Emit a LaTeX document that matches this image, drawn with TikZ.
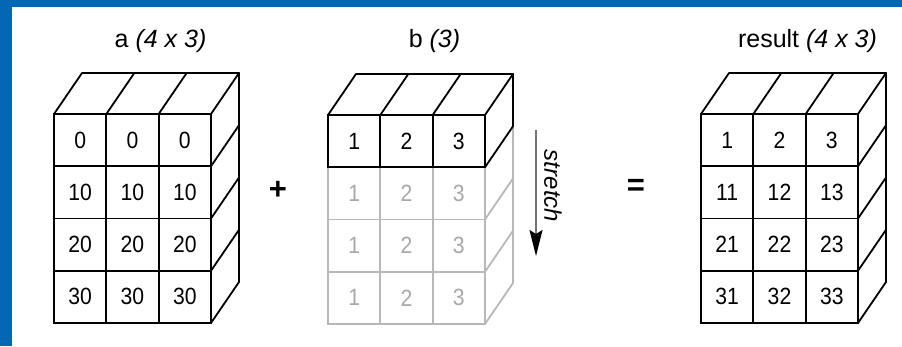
\documentclass[tikz,border=0pt]{standalone}
\usepackage{fontspec}
\setmainfont{Liberation Sans}
\newfontfamily\cellfont[FakeStretch=0.9]{Liberation Sans}
\usetikzlibrary{arrows.meta}
\definecolor{frameblue}{HTML}{0467B4}
\definecolor{faint}{HTML}{B8B8B8}
\definecolor{faintnum}{HTML}{A8A8A8}
\begin{document}
\begin{tikzpicture}[x=1pt,y=-1pt,
  edge/.style={line width=1.8pt, line join=round, line cap=round},
  cellbox/.style={draw, line width=1.8pt, minimum width=52.33pt, minimum height=52.25pt,
    inner sep=0pt, outer sep=0pt, anchor=north west, font=\cellfont\fontsize{23.5}{23.5}\selectfont},
  title/.style={font=\fontsize{25}{25}\selectfont, anchor=base},
  opsign/.style={font=\bfseries\fontsize{31}{31}\selectfont, inner sep=0pt}]
\useasboundingbox (0,0) rectangle (902,346);
\fill[white] (0,0) rectangle (902,346);
\fill[frameblue] (0,0) rectangle (12,346);
\fill[frameblue] (0,0) rectangle (902,7);

% ---------- block a ----------
\begin{scope}[shift={(54,114)}]
  \draw[edge] (0,0) -- (28,-41) -- (185,-41) -- (157,0);
  \foreach \c in {1,2} \draw[edge] (\c*52.33,0) -- ++(28,-41);
  \draw[edge] (185,-41) -- (185,168) -- (157,209);
  \foreach \r in {1,2,3} \draw[edge] (157,\r*52.25) -- ++(28,-41);
  \foreach \r in {0,...,3}
    \foreach \c in {0,1,2} {
      \pgfmathtruncatemacro{\v}{10*\r}
      \node[cellbox] (a-\r-\c) at (\c*52.33,\r*52.25) {\v};
    }
  \node[title] (a-title) at (106.5,-67) {a \textit{(4 x 3)}};
\end{scope}

% ---------- block b ----------
\begin{scope}[shift={(328,115)}]
  % stretched (faint) rows
  \draw[edge, faint] (185,11.25) -- (185,168) -- (157,209);
  \foreach \r in {2,3} \draw[edge, faint] (157,\r*52.25) -- ++(28,-41);
  \foreach \r in {1,2,3}
    \foreach \c in {0,1,2} {
      \pgfmathtruncatemacro{\v}{\c+1}
      \node[cellbox, draw=faint, text=faintnum] (b-\r-\c) at (\c*52.33,\r*52.25) {\v};
    }
  % original row
  \draw[edge] (0,0) -- (28,-41) -- (185,-41) -- (157,0);
  \foreach \c in {1,2} \draw[edge] (\c*52.33,0) -- ++(28,-41);
  \draw[edge] (185,-41) -- (185,11.25) -- (157,52.25);
  \foreach \c in {0,1,2} {
    \pgfmathtruncatemacro{\v}{\c+1}
    \node[cellbox] (b-0-\c) at (\c*52.33,0) {\v};
  }
  \node[title] (b-title) at (106.5,-68) {b \textit{(3)}};
\end{scope}

% stretch arrow
\coordinate (s-start) at (536,130);
\coordinate (s-end) at (536,256);
\draw[line width=1.6pt, black!55, -{Stealth[length=26pt, width=13pt, inset=4pt, color=black]}] (s-start) -- (s-end);
\node[font=\itshape\fontsize{24}{24}\selectfont, rotate=-90, inner sep=0pt] (stretch) at (553,186) {stretch};

% ---------- result ----------
\begin{scope}[shift={(701,114)}]
  \draw[edge] (0,0) -- (28,-41) -- (185,-41) -- (157,0);
  \foreach \c in {1,2} \draw[edge] (\c*52.33,0) -- ++(28,-41);
  \draw[edge] (185,-41) -- (185,168) -- (157,209);
  \foreach \r in {1,2,3} \draw[edge] (157,\r*52.25) -- ++(28,-41);
  \foreach \r in {0,...,3}
    \foreach \c in {0,1,2} {
      \pgfmathtruncatemacro{\v}{10*\r+\c+1}
      \node[cellbox] (r-\r-\c) at (\c*52.33,\r*52.25) {\v};
    }
  \node[title] (r-title) at (106.5,-67) {result \textit{(4 x 3)}};
\end{scope}

% operators
\node[opsign] (plus) at (278,190) {+};
\node[opsign] (equals) at (636,187) {=};
\end{tikzpicture}
\end{document}
